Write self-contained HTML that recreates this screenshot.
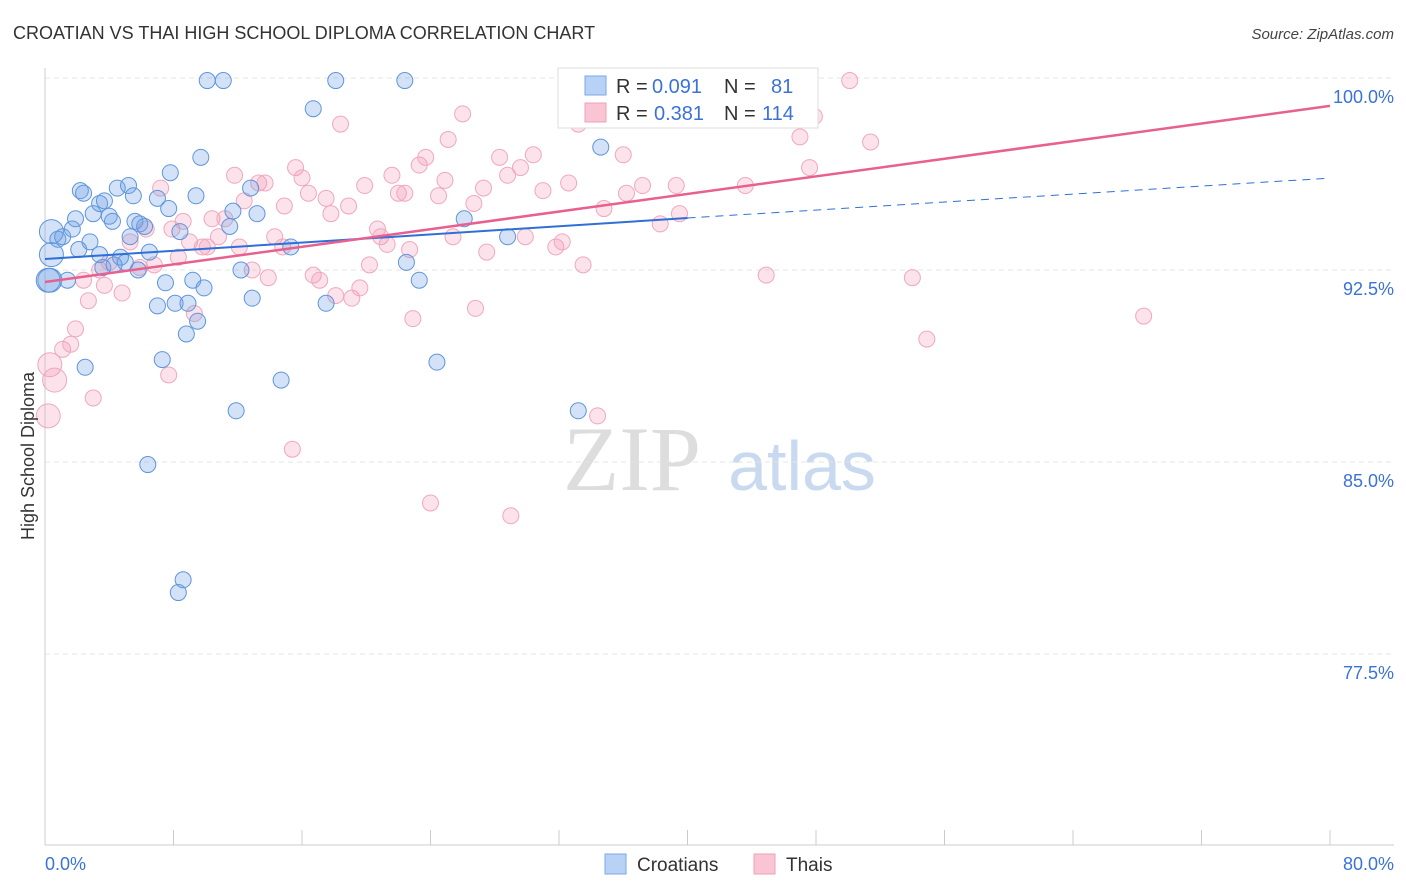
<!DOCTYPE html>
<html><head><meta charset="utf-8">
<style>
body{margin:0;background:#fff;font-family:"Liberation Sans",sans-serif;}
svg{display:block}
</style></head>
<body>
<svg id="chart" width="1406" height="892" viewBox="0 0 1406 892" xmlns="http://www.w3.org/2000/svg">
<text x="13" y="39" font-size="18" fill="#333">CROATIAN VS THAI HIGH SCHOOL DIPLOMA CORRELATION CHART</text>
<text x="1394" y="39" font-size="15" fill="#444" text-anchor="end" font-style="italic">Source: ZipAtlas.com</text>
<g>
<text x="632" y="490" font-size="92" font-family="Liberation Serif,serif" fill="#ddd" text-anchor="middle">ZIP</text>
<text x="802" y="490" font-size="70" fill="#c8d9f0" text-anchor="middle">atlas</text>
</g>
<g id="grid"></g>
<g id="axes"></g>
<g id="pts"></g>
<g id="trends"></g>
<text transform="translate(34,456) rotate(-90)" font-size="18" fill="#333" text-anchor="middle">High School Diploma</text>
<g>
<rect x="558" y="68" width="260" height="60" fill="#fff" stroke="#ddd"/>
<rect x="585" y="76" width="21" height="19" fill="#b8d2f5" stroke="#7aa8e8"/>
<rect x="585" y="103" width="21" height="19" fill="#f9c4d3" stroke="#f0a0b8"/>
<text x="616" y="93" font-size="20" fill="#333">R = </text><text x="652" y="93" font-size="20" fill="#3b72d8">0.091</text>
<text x="724" y="93" font-size="20" fill="#333">N = </text><text x="771" y="93" font-size="20" fill="#3b72d8">81</text>
<text x="616" y="120" font-size="20" fill="#333">R = </text><text x="654" y="120" font-size="20" fill="#3b72d8">0.381</text>
<text x="724" y="120" font-size="20" fill="#333">N = </text><text x="762" y="120" font-size="20" fill="#3b72d8">114</text>
</g>
<g>
<rect x="605" y="854" width="21" height="20" fill="#b8d2f5" stroke="#7aa8e8"/>
<text x="637" y="871" font-size="19" fill="#333">Croatians</text>
<rect x="754" y="854" width="21" height="20" fill="#f9c4d3" stroke="#f0a0b8"/>
<text x="786" y="871" font-size="19" fill="#333">Thais</text>
</g>
</svg>
<script>
const xTicks=[0,8,16,24,32,40,48,56,64,72,80];
const yTicks=[77.5,85,92.5,100];
const yTickLabels=["77.5%","85.0%","92.5%","100.0%"];
const blueX=[0.4,0.8,1.1,0.3,1.4,1.7,1.9,2.2,2.4,2.8,3.0,2.1,2.5,3.4,3.6,3.7,4.0,4.2,4.5,4.7,5.0,5.2,5.3,5.5,5.6,5.8,5.9,6.2,6.5,6.4,7.0,7.0,7.3,7.5,7.7,7.8,8.1,8.3,8.6,8.4,8.8,8.9,9.2,9.4,9.5,9.7,9.9,10.1,11.1,11.5,11.7,11.9,12.2,12.8,12.9,13.2,14.7,15.3,16.7,17.5,18.1,22.4,22.5,23.3,24.4,26.1,28.8,33.2,34.6,0.2,0.4,3.4,4.3];
const blueY=[94.0,93.7,93.8,92.1,92.1,94.1,94.5,95.6,95.5,93.6,94.7,93.3,88.7,95.1,92.6,95.2,94.6,94.4,95.7,93.0,92.8,95.8,93.8,95.4,94.4,92.5,94.3,94.2,93.2,84.9,95.3,91.1,89.0,92.0,94.9,96.3,91.2,79.9,80.4,94.0,90.0,91.2,92.1,95.4,90.5,96.9,91.8,99.9,99.9,94.2,94.8,87.0,92.5,95.7,91.4,94.7,88.2,93.4,98.8,91.2,99.9,99.9,92.8,92.1,88.9,94.5,93.8,87.0,97.3,92.1,93.1,93.1,92.7];
const pinkX=[0.3,0.2,0.6,1.1,1.6,1.9,2.4,2.7,3.0,3.4,3.7,4.0,4.8,5.3,5.9,6.3,6.8,7.2,7.7,7.9,8.3,8.6,9.0,9.3,9.8,10.1,10.4,10.8,11.2,11.8,12.1,12.4,12.9,13.3,13.7,13.9,14.3,14.8,14.9,15.4,15.6,16.0,16.4,16.7,17.1,17.5,17.8,18.1,18.4,18.9,19.1,19.6,19.9,20.2,20.7,20.9,21.3,21.6,22.0,22.4,22.7,22.9,23.3,23.7,24.0,24.5,24.9,25.1,25.4,26.0,26.7,26.8,27.3,27.5,28.3,28.8,29.0,29.6,29.9,30.4,31.0,31.8,32.2,32.6,32.9,33.5,34.4,34.8,36.0,36.2,37.2,38.3,39.3,39.5,41.6,43.6,44.9,47.0,47.6,47.9,50.1,51.4,54.0,54.9,68.4,33.2,33.9];
const pinkY=[88.8,86.8,88.2,89.4,89.6,90.2,92.1,91.3,87.5,92.5,91.9,92.8,91.6,93.6,92.6,94.1,92.7,95.7,88.4,94.1,93.0,94.4,93.6,90.8,93.4,93.4,94.5,93.8,94.5,96.2,93.4,95.2,92.5,95.9,95.9,92.2,93.8,93.4,95.0,85.5,96.5,96.1,95.5,92.3,92.1,95.3,94.7,91.5,98.2,95.0,91.4,91.8,95.8,92.7,94.1,93.8,93.5,96.2,95.5,95.5,93.3,90.6,96.6,96.9,83.4,95.4,96.0,97.6,93.8,98.6,95.1,91.0,95.7,93.2,96.9,96.2,82.9,96.5,93.8,97.0,95.6,93.4,93.6,95.9,99.1,92.7,86.8,94.9,97.0,95.5,95.8,94.3,95.8,94.7,99.9,95.8,92.3,97.7,96.5,98.5,99.9,97.5,92.2,89.8,90.7,98.2,98.8];
const blueTrendX=[0,40,80];
const blueTrendY=[92.93,94.53,96.09];
const pinkTrendX=[0,80];
const pinkTrendY=[92.03,98.91];

const NS="http://www.w3.org/2000/svg";
const sx=v=>45+v*(1285/80);
const sy=v=>78+(100-v)*25.6;
function mk(tag,attrs,parent){const e=document.createElementNS(NS,tag);for(const k in attrs)e.setAttribute(k,attrs[k]);parent.appendChild(e);return e;}
const grid=document.getElementById('grid'),axes=document.getElementById('axes'),pts=document.getElementById('pts'),tr=document.getElementById('trends');
yTicks.forEach((t,i)=>{
 const l=mk('line',{x1:45,x2:1394,y1:sy(t),y2:sy(t),stroke:'#e4e4e4','stroke-dasharray':'5,4'},grid);
 
 
 const tx=mk('text',{x:1394,y:sy(t)+25,'font-size':18,fill:'#3b72d8','text-anchor':'end'},axes);
 tx.textContent=yTickLabels[i];
 
 
});
const ax=mk('line',{x1:45,x2:45,y1:68,y2:845,stroke:'#ccc'},axes);


const bx=mk('line',{x1:45,x2:1394,y1:845,y2:845,stroke:'#ccc'},axes);


xTicks.forEach(t=>{
 const l=mk('line',{x1:sx(t),x2:sx(t),y1:830,y2:845,stroke:'#ccc'},axes);
 
 
});
const xl0=mk('text',{x:45,y:870,'font-size':18,fill:'#3b72d8'},axes);xl0.textContent=xTicks[0].toFixed(1)+'%';


const xl1=mk('text',{x:1394,y:870,'font-size':18,fill:'#3b72d8','text-anchor':'end'},axes);xl1.textContent=xTicks[xTicks.length-1].toFixed(1)+'%';


function drawPts(X,Y,fill,stroke,name){
 X.forEach((x,i)=>{
  const r=x<0.7?12:8;
  const c=mk('circle',{cx:sx(x),cy:sy(Y[i]),r:r,fill:fill,stroke:stroke,'stroke-width':1},pts);
  
  
 });
}
drawPts(pinkX,pinkY,'rgba(244,150,180,0.28)','#f0a8be','thai-point');
drawPts(blueX,blueY,'rgba(110,160,230,0.3)','#5f95dd','croatian-point');
const b1=mk('line',{x1:sx(blueTrendX[0]),y1:sy(blueTrendY[0]),x2:sx(blueTrendX[1]),y2:sy(blueTrendY[1]),stroke:'#2f6fd6','stroke-width':2},tr);


const b2=mk('line',{x1:sx(blueTrendX[1]),y1:sy(blueTrendY[1]),x2:sx(blueTrendX[2]),y2:sy(blueTrendY[2]),stroke:'#2f6fd6','stroke-width':1,'stroke-dasharray':'8,6'},tr);


const p1=mk('line',{x1:sx(pinkTrendX[0]),y1:sy(pinkTrendY[0]),x2:sx(pinkTrendX[1]),y2:sy(pinkTrendY[1]),stroke:'#e8608f','stroke-width':2.5},tr);


</script>
</body></html>
